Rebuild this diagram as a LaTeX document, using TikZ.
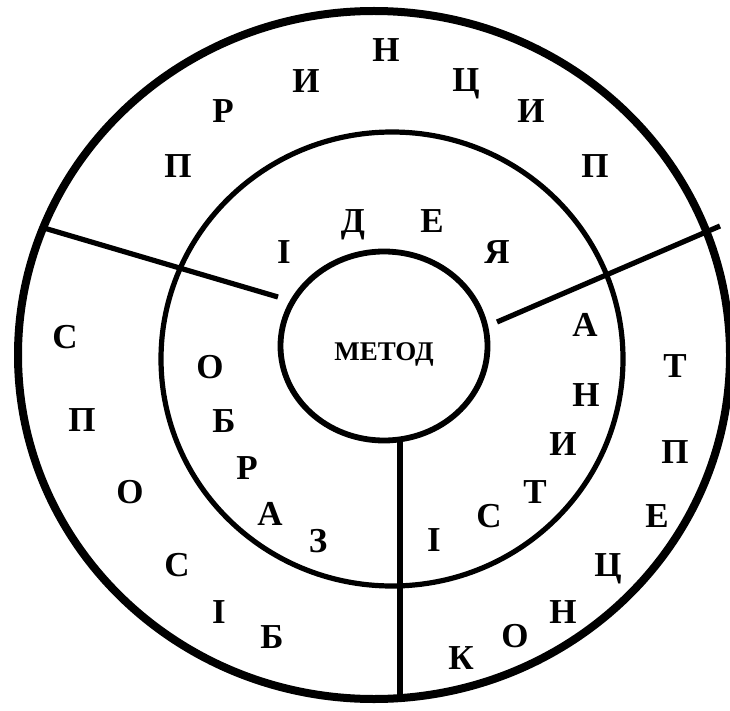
\documentclass[tikz,border=0pt]{standalone}
\usepackage{fontspec}
\setmainfont{Liberation Serif}

\begin{document}
\begin{tikzpicture}[
  x=1pt, y=-1pt,
  letter/.style={font=\fontsize{35}{35}\selectfont\bfseries, inner sep=0pt, text height=23pt, text depth=0pt},
  hubtext/.style={font=\fontsize{27}{27}\selectfont\bfseries, inner sep=0pt, text height=18pt, text depth=0pt},
  rim/.style={draw, line width=8pt},
  ring/.style={draw, line width=5.2pt},
  divider/.style={line width=5.2pt}
]
\useasboundingbox (0,0) rectangle (730,711);
% rings
\draw[rim] (374,355) ellipse [x radius=356pt, y radius=344pt];
\draw[ring] (392,359) ellipse [x radius=231pt, y radius=227pt];
\draw[ring, line width=5.8pt] (384,346) ellipse [x radius=103.5pt, y radius=94.5pt];
\node[hubtext] (method) at (384,351) {МЕТОД};
% dividers
\coordinate (divL-in) at (278,297);
\coordinate (divL-out) at (44,228);
\coordinate (divR-in) at (497,322);
\coordinate (divR-out) at (720,226);
\coordinate (divB-in) at (400,439);
\coordinate (divB-out) at (400,700);
\draw[divider] (divL-in) -- (divL-out);
\draw[divider] (divR-in) -- (divR-out);
\draw[divider] (divB-in) -- (divB-out);
% outer ring words
\foreach \l/\x/\y [count=\i] in {П/178/166, Р/223/111, И/306/81, Н/386/50, Ц/466/80, И/531/111, П/595/166}
  \node[letter] (princ-\i) at (\x,\y) {\l};
\foreach \l/\x/\y [count=\i] in {К/461/658, О/515/636, Н/563/612, Ц/608/565, Е/657/516, П/675/452, Т/675/366}
  \node[letter] (konc-\i) at (\x,\y) {\l};
\foreach \l/\x/\y [count=\i] in {С/65/337, П/82/420, О/130/492, С/177/565, І/219/612, Б/272/637}
  \node[letter] (spos-\i) at (\x,\y) {\l};
% middle ring words
\foreach \l/\x/\y [count=\i] in {І/284/252, Д/353/221, Е/432/221, Я/497/252}
  \node[letter] (idea-\i) at (\x,\y) {\l};
\foreach \l/\x/\y [count=\i] in {І/434/540, С/489/516, Т/535/492, И/563/444, Н/586/395, А/585/325}
  \node[letter] (ist-\i) at (\x,\y) {\l};
\foreach \l/\x/\y [count=\i] in {О/210/367, Б/224/421, Р/247/468, А/270/514, З/318/541}
  \node[letter] (obr-\i) at (\x,\y) {\l};
\end{tikzpicture}
\end{document}
